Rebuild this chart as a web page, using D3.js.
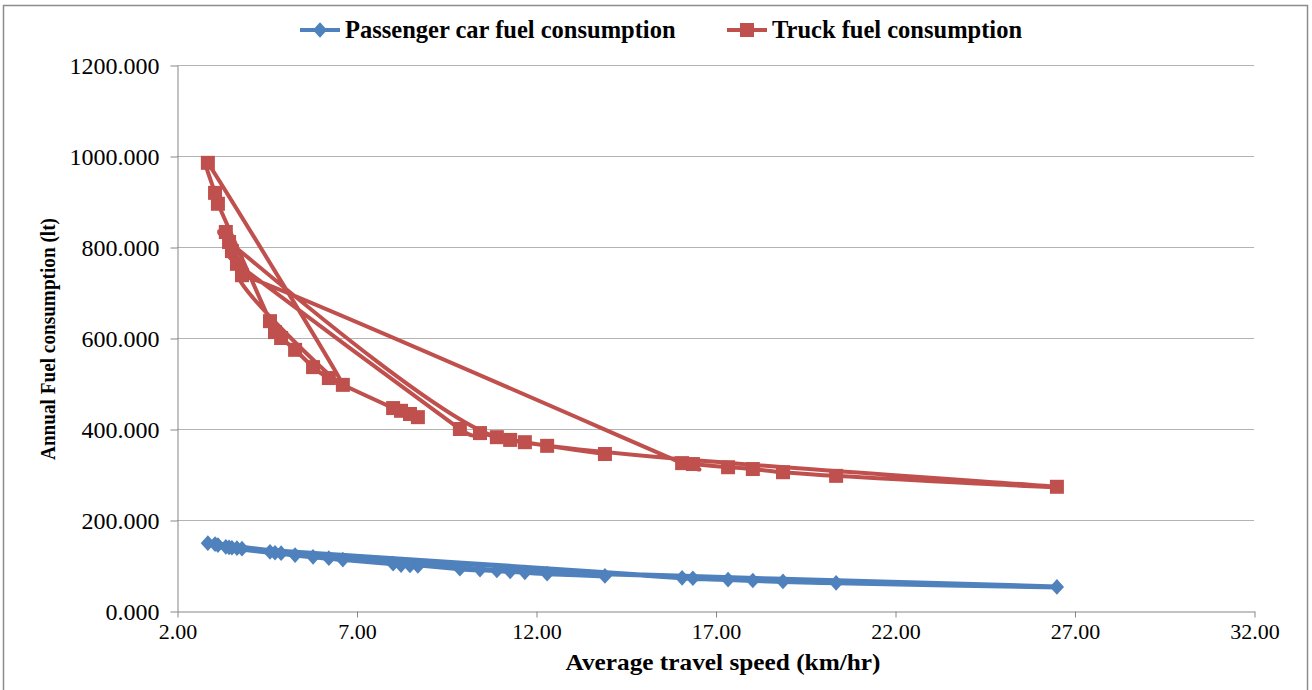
<!DOCTYPE html>
<html>
<head>
<meta charset="utf-8">
<script src="https://cdn.jsdelivr.net/npm/d3@7/dist/d3.min.js"></script>
<style>
body { margin: 0; background: #fff; }
text { font-family: "Liberation Serif", "Times New Roman", serif; }
</style>
</head>
<body>
<svg id="chart" width="1312" height="690"></svg>
<script>
/**
 * Rows as they sit in the sheet (not sorted by speed)
 */
var speeds    = [8.71, 8.49, 8.24, 8.02, 6.23, 5.79, 5.29, 4.90, 4.73, 4.59,
                 3.14, 3.06, 2.86, 6.62, 3.81,
                 16.07, 16.37, 17.35, 18.04, 18.88, 20.36, 26.51, 10.91,
                 3.45, 3.36, 3.53, 3.67,
                 9.88, 10.44, 11.28, 11.69, 12.31, 13.92];
var carFuel   = [99, 100, 101, 104, 116, 119, 123, 127, 128, 130,
                 145, 147, 149, 113, 137,
                 73, 72, 69, 67, 65, 62, 53, 89,
                 140, 141, 139, 138,
                 93, 91, 87, 85, 82, 77];
var truckFuel = [426, 433, 440, 446, 512, 536, 574, 600, 613, 637,
                 895, 919, 985, 497, 738,
                 325, 323, 316, 312, 305, 297, 273, 382,
                 811, 833, 791, 763,
                 400, 391, 376, 371, 363, 345];

var seriesNames = ["Passenger car fuel consumption", "Truck fuel consumption"];
var seriesColors = ["#4F81BD", "#C0504D"];
var xTicks = [2, 7, 12, 17, 22, 27, 32];
var yTicks = [0, 200, 400, 600, 800, 1000, 1200];

var margin = {top: 65, left: 177, right: 58, bottom: 79};
var width = 1312, height = 690;

var svg = d3.select("#chart");

// outer chart frame
svg.append("rect")
    .attr("x", 3.5).attr("y", 5.5)
    .attr("width", 1304).attr("height", 720)
    .style("fill", "none")
    .style("stroke", "#8c8c8c")
    .style("stroke-width", 1.5);

var xScale = d3.scaleLinear()
    .domain([2, 32])
    .range([margin.left, width - margin.right]);

var yScale = d3.scaleLinear()
    .domain([0, 1200])
    .range([height - margin.bottom, margin.top]);

// horizontal gridlines
svg.append("g").selectAll("line")
    .data(yTicks.slice(1))
    .enter()
    .append("line")
    .attr("x1", xScale(2)).attr("x2", xScale(32))
    .attr("y1", function(d){ return yScale(d) + 0.5; })
    .attr("y2", function(d){ return yScale(d) + 0.5; })
    .style("stroke", "#b3b3b3")
    .style("stroke-width", 1);

var yAxis = svg.append("g")
    .attr("transform", "translate(" + (xScale(2) + 0.5) + ",0.5)")
    .call(d3.axisLeft(yScale).tickValues(yTicks).tickFormat(d3.format(".3f"))
        .tickSize(7).tickSizeOuter(0).tickPadding(11));

var xAxis = svg.append("g")
    .attr("transform", "translate(0.5," + (yScale(0) + 0.5) + ")")
    .call(d3.axisBottom(xScale).tickValues(xTicks).tickFormat(d3.format(".2f"))
        .tickSize(6).tickSizeOuter(0).tickPadding(6));

[xAxis, yAxis].forEach(function(a){
    a.selectAll("path, line").style("stroke", "#868686");
    a.selectAll("text")
        .style("font-family", "'Liberation Serif', serif")
        .style("fill", "#000");
});
xAxis.selectAll("text").style("font-size", "22px");
yAxis.selectAll("text").style("font-size", "24px");

// axis titles
svg.append("text")
    .attr("x", 723)
    .attr("y", 670)
    .attr("text-anchor", "middle")
    .attr("textLength", 315)
    .attr("lengthAdjust", "spacingAndGlyphs")
    .style("font-weight", "bold")
    .style("font-size", "24px")
    .text("Average travel speed (km/hr)");

svg.append("text")
    .attr("transform", "translate(55,339) rotate(-90)")
    .attr("text-anchor", "middle")
    .attr("textLength", 242)
    .attr("lengthAdjust", "spacingAndGlyphs")
    .style("font-weight", "bold")
    .style("font-size", "20px")
    .text("Annual Fuel consumption (lt)");

// lines, lightly smoothed like the spreadsheet
var line = d3.line()
    .curve(d3.curveCardinal.tension(0.55))
    .x(function(d){ return xScale(d.x); })
    .y(function(d){ return yScale(d.y); });

var carPoints = speeds.map(function(s, i){ return {x: s, y: carFuel[i]}; });
var truckPoints = speeds.map(function(s, i){ return {x: s, y: truckFuel[i]}; });

svg.append("path")
    .datum(carPoints)
    .attr("d", line)
    .style("fill", "none")
    .style("stroke", seriesColors[0])
    .style("stroke-width", 5);

svg.append("path")
    .datum(truckPoints)
    .attr("d", line)
    .style("fill", "none")
    .style("stroke", seriesColors[1])
    .style("stroke-width", 4);

var diamond = d3.symbol().type(d3.symbolDiamond2).size(130);

svg.append("g").selectAll("path")
    .data(carPoints)
    .enter()
    .append("path")
    .attr("d", diamond)
    .attr("transform", function(d){
        return "translate(" + xScale(d.x) + "," + yScale(d.y) + ") scale(1,1.1)";
    })
    .style("fill", seriesColors[0]);

svg.append("g").selectAll("rect")
    .data(truckPoints)
    .enter()
    .append("rect")
    .attr("x", function(d){ return xScale(d.x) - 7; })
    .attr("y", function(d){ return yScale(d.y) - 7; })
    .attr("width", 14)
    .attr("height", 14)
    .style("fill", seriesColors[1]);

// legend
var legend = svg.append("g");
var legendX = [300, 727];

seriesNames.forEach(function(name, i){
    var g = legend.append("g").attr("transform", "translate(" + legendX[i] + ",30)");
    g.append("line")
        .attr("x1", 0).attr("x2", 40)
        .style("stroke", seriesColors[i])
        .style("stroke-width", 4);
    if (i === 0) {
        g.append("path")
            .attr("d", diamond)
            .attr("transform", "translate(20,0) scale(1,1.1)")
            .style("fill", seriesColors[i]);
    } else {
        g.append("rect")
            .attr("x", 13).attr("y", -7)
            .attr("width", 14).attr("height", 14)
            .style("fill", seriesColors[i]);
    }
    g.append("text")
        .attr("x", 45)
        .attr("y", 8)
        .style("font-weight", "bold")
        .style("font-size", "24.5px")
        .text(name);
});
</script>
</body>
</html>
